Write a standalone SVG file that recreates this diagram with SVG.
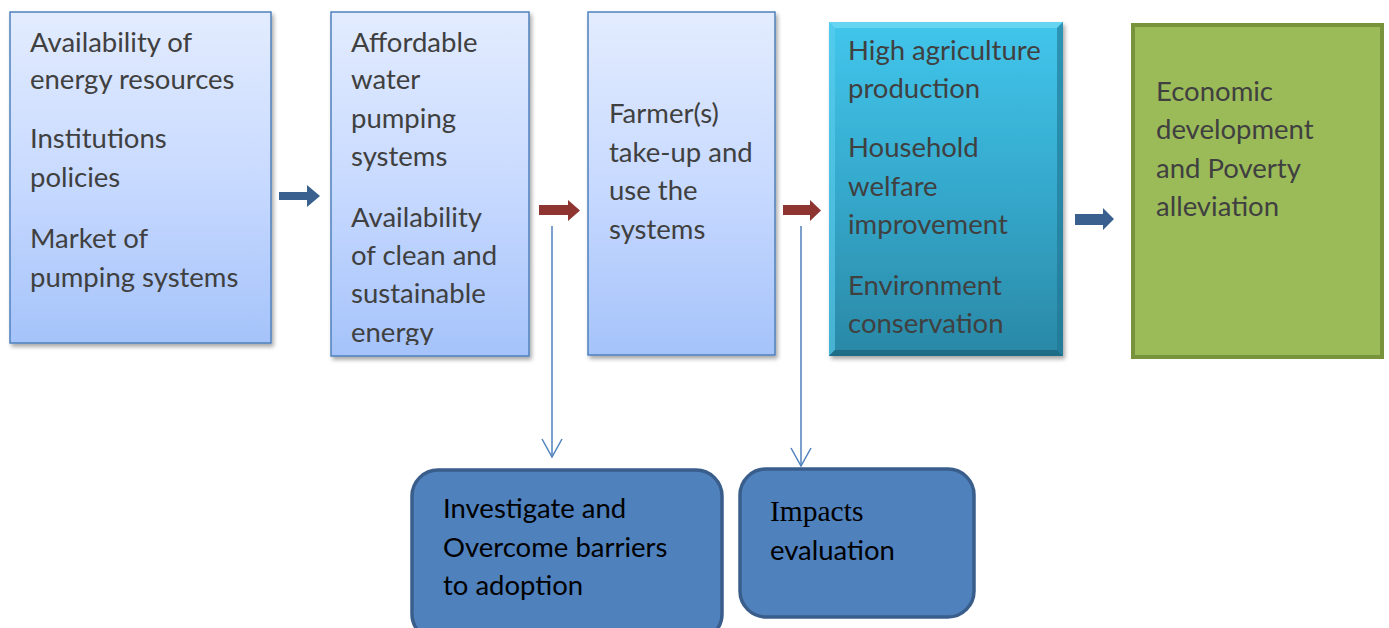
<svg xmlns="http://www.w3.org/2000/svg" width="1389" height="628" viewBox="0 0 1389 628">
  <defs>
    <linearGradient id="gBlue" x1="0" y1="0" x2="0" y2="1">
      <stop offset="0" stop-color="#e3ecfe"/>
      <stop offset="0.5" stop-color="#c8daff"/>
      <stop offset="1" stop-color="#a5c3fa"/>
    </linearGradient>
    <linearGradient id="gTeal" x1="0" y1="0" x2="0" y2="1">
      <stop offset="0" stop-color="#42c6ec"/>
      <stop offset="0.5" stop-color="#35a9cc"/>
      <stop offset="1" stop-color="#2a88a6"/>
    </linearGradient>
    <filter id="shadow" x="-10%" y="-10%" width="125%" height="125%">
      <feGaussianBlur in="SourceAlpha" stdDeviation="2"/>
      <feOffset dx="2" dy="3" result="b"/>
      <feComponentTransfer><feFuncA type="linear" slope="0.35"/></feComponentTransfer>
      <feMerge><feMergeNode/><feMergeNode in="SourceGraphic"/></feMerge>
    </filter>
    <clipPath id="clip2"><rect x="331" y="12" width="198" height="333"/></clipPath>
    <marker id="vHead" markerWidth="24" markerHeight="24" refX="20" refY="12" orient="auto" markerUnits="userSpaceOnUse" viewBox="0 0 24 24">
      <path d="M2,2 L20,12 L2,22" fill="none" stroke="#4f81bd" stroke-width="1.5"/>
    </marker>
  </defs>
  <style>
    .lbox { fill: url(#gBlue); stroke: #4f81bd; stroke-width: 1.5; }
    .t { font-family: Lato, "Open Sans", "Liberation Sans", sans-serif; font-size: 27.5px; fill: #404040; }
    .tb { font-family: Lato, "Open Sans", "Liberation Sans", sans-serif; font-size: 27.5px; fill: #000; }
    .ts { font-family: "Liberation Serif", serif; font-size: 29.5px; fill: #000; }
    .blk-blue { fill: #3a6090; }
    .blk-red { fill: #8e3431; }
    .rbox { fill: #4f81bd; stroke: #3a5e8c; stroke-width: 3.5; }
    .conn { stroke: #4f81bd; stroke-width: 1.5; fill: none; }
  </style>

  <rect width="1389" height="628" fill="#ffffff"/>

  <!-- Enabling conditions -->
  <g id="node-conditions">
    <rect class="lbox" x="10" y="12" width="261" height="331" filter="url(#shadow)"/>
    <text class="t" x="30" y="52">Availability of</text>
    <text class="t" x="30" y="89">energy resources</text>
    <text class="t" x="30" y="148">Institutions</text>
    <text class="t" x="30" y="187">policies</text>
    <text class="t" x="30" y="248">Market of</text>
    <text class="t" x="30" y="287">pumping systems</text>
  </g>

  <!-- Affordable systems -->
  <g id="node-systems">
    <rect class="lbox" x="331" y="12" width="198" height="344" filter="url(#shadow)"/>
    <g clip-path="url(#clip2)">
      <text class="t" x="351" y="52">Affordable</text>
      <text class="t" x="351" y="89">water</text>
      <text class="t" x="351" y="128">pumping</text>
      <text class="t" x="351" y="166">systems</text>
      <text class="t" x="351" y="227">Availability</text>
      <text class="t" x="351" y="265">of clean and</text>
      <text class="t" x="351" y="303">sustainable</text>
      <text class="t" x="351" y="342">energy</text>
    </g>
  </g>

  <!-- Farmer uptake -->
  <g id="node-uptake">
    <rect class="lbox" x="588" y="12" width="187" height="343" filter="url(#shadow)"/>
    <text class="t" x="609" y="123">Farmer(s)</text>
    <text class="t" x="609" y="162">take-up and</text>
    <text class="t" x="609" y="200">use the</text>
    <text class="t" x="609" y="239">systems</text>
  </g>

  <!-- Outcomes -->
  <g id="node-outcomes">
    <rect x="829" y="22" width="234" height="334" fill="url(#gTeal)" filter="url(#shadow)"/>
    <!-- bevel edges -->
    <polygon points="829,22 1063,22 1057,28 835,28" fill="#6fd8f4" opacity="0.8"/>
    <polygon points="829,22 835,28 835,350 829,356" fill="#5ccfee" opacity="0.6"/>
    <polygon points="1063,22 1063,356 1057,350 1057,28" fill="#1f7390" opacity="0.6"/>
    <polygon points="829,356 835,350 1057,350 1063,356" fill="#1c6680" opacity="0.8"/>
    <text class="t" x="848" y="60">High agriculture</text>
    <text class="t" x="848" y="98">production</text>
    <text class="t" x="848" y="157">Household</text>
    <text class="t" x="848" y="196">welfare</text>
    <text class="t" x="848" y="234">improvement</text>
    <text class="t" x="848" y="295">Environment</text>
    <text class="t" x="848" y="333">conservation</text>
  </g>

  <!-- Development goal -->
  <g id="node-development">
    <rect x="1133" y="25" width="249" height="332" fill="#9bbb59" stroke="#77933c" stroke-width="4"/>
    <text class="t" x="1156" y="101">Economic</text>
    <text class="t" x="1156" y="139">development</text>
    <text class="t" x="1156" y="178">and Poverty</text>
    <text class="t" x="1156" y="216">alleviation</text>
  </g>

  <!-- Barriers study -->
  <g id="node-barriers">
    <rect class="rbox" x="412" y="470" width="310" height="170" rx="26" ry="26"/>
    <text class="tb" x="443" y="518">Investigate and</text>
    <text class="tb" x="443" y="557">Overcome barriers</text>
    <text class="tb" x="443" y="595">to adoption</text>
  </g>

  <!-- Impact study -->
  <g id="node-impacts">
    <rect class="rbox" x="740" y="469" width="234" height="148" rx="26" ry="26"/>
    <text class="ts" x="770" y="521">Impacts</text>
    <text class="tb" x="770" y="560">evaluation</text>
  </g>

  <!-- Connectors -->
  <g id="connectors">
    <polygon class="blk-blue" points="279,192 307,192 307,185 320,196 307,207 307,200 279,200"/>
    <polygon class="blk-red" points="539,205 568,205 568,200 580,210.5 568,221 568,215 539,215"/>
    <polygon class="blk-red" points="783,205 810,205 810,200 821,210.5 810,221 810,215 783,215"/>
    <polygon class="blk-blue" points="1075,214 1103,214 1103,208 1114,219 1103,230 1103,225 1075,225"/>
    <line class="conn" x1="552" y1="226" x2="552" y2="457" marker-end="url(#vHead)"/>
    <line class="conn" x1="801" y1="226" x2="801" y2="466" marker-end="url(#vHead)"/>
  </g>
</svg>
